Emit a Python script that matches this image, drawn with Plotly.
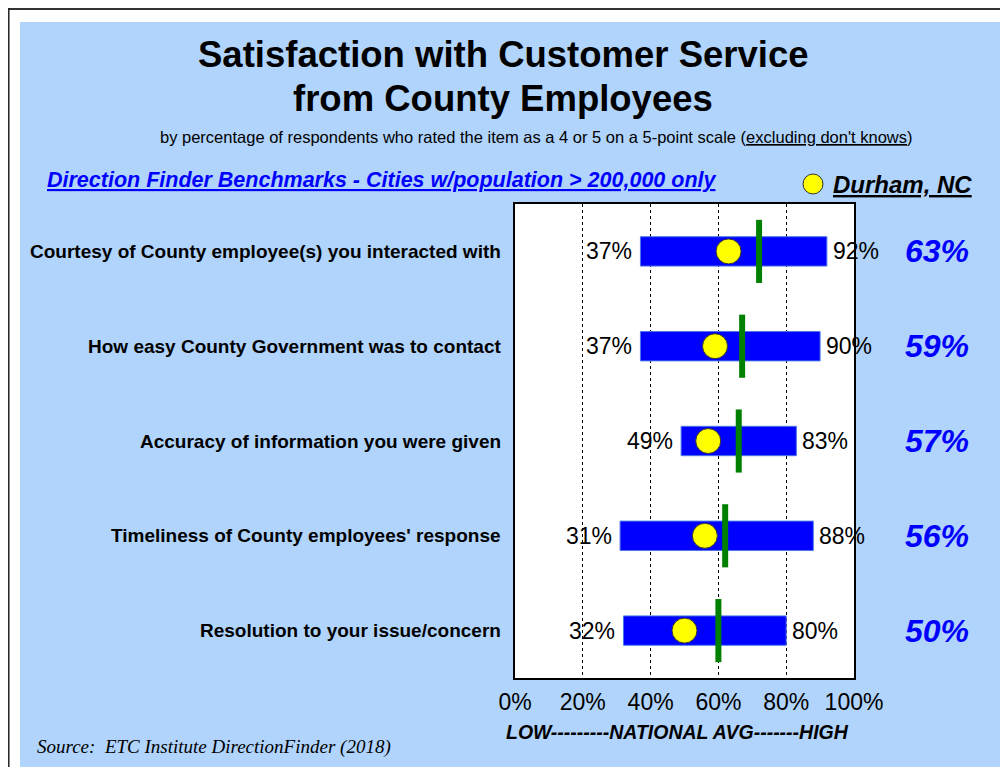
import plotly.graph_objects as go

categories = [
    "Courtesy of County employee(s) you interacted with",
    "How easy County Government was to contact",
    "Accuracy of information you were given",
    "Timeliness of County employees' response",
    "Resolution to your issue/concern",
]
low = [37, 37, 49, 31, 32]
high = [92, 90, 83, 88, 80]
national_avg = [72, 67, 66, 62, 60]
durham = [63, 59, 57, 56, 50]
tick_vals = [0, 20, 40, 60, 80, 100]
tick_text = ["0%", "20%", "40%", "60%", "80%", "100%"]

W, H = 1008, 767
OFF = 8  # page body margin
L, R, T, B = 515, 854, 204, 678


def px(x):
    return (x - L) / (R - L)


def py(y):
    return (B - y) / (B - T)


BLUE_BG = "#B0D4FC"
pos = list(range(len(categories)))

fig = go.Figure()

fig.add_trace(go.Bar(
    y=pos, x=[h - l for l, h in zip(low, high)], base=low, orientation="h",
    width=0.31, marker=dict(color="#0000FF", line=dict(color="#4A78E8", width=1)),
    showlegend=False, hoverinfo="skip",
))

gx, gy = [], []
for i, v in enumerate(national_avg):
    gx += [v, v, None]
    gy += [i - 0.333, i + 0.333, None]
fig.add_trace(go.Scatter(x=gx, y=gy, mode="lines", line=dict(color="#008000", width=6),
                         showlegend=False, hoverinfo="skip"))

fig.add_trace(go.Scatter(
    x=durham, y=pos, mode="markers",
    marker=dict(size=25, color="#FFFF00", line=dict(color="#333333", width=1)),
    showlegend=False, hoverinfo="skip",
))

ann = []
lab_font = dict(family="Arial, Liberation Sans", size=23, color="black")
for i in pos:
    ann.append(dict(x=low[i], y=i, xref="x", yref="y", text=f"{low[i]}%", showarrow=False,
                    xanchor="right", yanchor="middle", xshift=-6, font=lab_font))
    ann.append(dict(x=high[i], y=i, xref="x", yref="y", text=f"{high[i]}%", showarrow=False,
                    xanchor="left", yanchor="middle", xshift=4, font=lab_font))
    ann.append(dict(x=px(937), y=i, xref="paper", yref="y", text=f"<b><i>{durham[i]}%</i></b>",
                    showarrow=False, xanchor="center", yanchor="middle",
                    font=dict(family="Arial, Liberation Sans", size=32, color="#0000FF")))
    ann.append(dict(x=px(503), y=i, xref="paper", yref="y", text=f"<b>{categories[i]}</b>",
                    showarrow=False, xanchor="right", yanchor="middle",
                    font=dict(family="Arial, Liberation Sans", size=19, color="black")))

ann += [
    dict(x=px(503), y=py(54), xref="paper", yref="paper", showarrow=False,
         text="<b>Satisfaction with Customer Service</b>", xanchor="center", yanchor="middle",
         font=dict(family="Arial, Liberation Sans", size=36.5, color="black")),
    dict(x=px(503), y=py(98), xref="paper", yref="paper", showarrow=False,
         text="<b>from County Employees</b>", xanchor="center", yanchor="middle",
         font=dict(family="Arial, Liberation Sans", size=36.5, color="black")),
    dict(x=px(536), y=py(137), xref="paper", yref="paper", showarrow=False,
         text="by percentage of respondents who rated the item as a 4 or 5 on a 5-point scale (<u>excluding don't knows</u>)",
         xanchor="center", yanchor="middle",
         font=dict(family="Arial, Liberation Sans", size=16.5, color="black")),
    dict(x=px(45), y=py(180), xref="paper", yref="paper", showarrow=False,
         text="<b><i><u>Direction Finder Benchmarks - Cities w/population > 200,000 only</u></i></b>",
         xanchor="left", yanchor="middle",
         font=dict(family="Arial, Liberation Sans", size=21.5, color="#0000FF")),
    dict(x=px(831), y=py(184), xref="paper", yref="paper", showarrow=False,
         text="<b><i><u>Durham, NC</u></i></b>", xanchor="left", yanchor="middle",
         font=dict(family="Arial, Liberation Sans", size=24, color="black")),
    dict(x=px(677), y=py(732), xref="paper", yref="paper", showarrow=False,
         text="<b><i>LOW---------NATIONAL AVG-------HIGH</i></b>", xanchor="center", yanchor="middle",
         font=dict(family="Arial, Liberation Sans", size=19.5, color="black")),
    dict(x=px(35), y=py(747), xref="paper", yref="paper", showarrow=False,
         text="<i>Source:  ETC Institute DirectionFinder (2018)</i>", xanchor="left", yanchor="middle",
         font=dict(family="Liberation Serif, Times New Roman", size=19, color="black")),
]

shapes = [
    dict(type="rect", xref="paper", yref="paper", x0=px(-10), x1=px(W + 10), y0=py(22), y1=py(-10),
         fillcolor="white", line=dict(width=0), layer="above"),
    dict(type="rect", xref="paper", yref="paper", x0=px(-10), x1=px(20), y0=py(H + 10), y1=py(-10),
         fillcolor="white", line=dict(width=0), layer="above"),
    dict(type="rect", xref="paper", yref="paper", x0=px(1004), x1=px(W + 10), y0=py(H + 10), y1=py(-10),
         fillcolor="white", line=dict(width=0), layer="above"),
    dict(type="line", xref="paper", yref="paper", x0=px(8), x1=px(W + 10), y0=py(9), y1=py(9),
         line=dict(color="#333333", width=2), layer="above"),
    dict(type="line", xref="paper", yref="paper", x0=px(8.8), x1=px(8.8), y0=py(8), y1=py(H + 10),
         line=dict(color="#222222", width=1.5), layer="above"),
    dict(type="circle", xref="paper", yref="paper", x0=px(803), x1=px(823), y0=py(194), y1=py(174),
         fillcolor="#FFFF00", line=dict(color="#333333", width=1), layer="above"),
]

fig.update_layout(
    width=W, height=H,
    margin=dict(l=L - OFF, r=W - R + OFF, t=T - OFF, b=H - B + OFF, pad=0),
    paper_bgcolor=BLUE_BG, plot_bgcolor="white",
    annotations=ann, shapes=shapes, showlegend=False,
    xaxis=dict(range=[0, 100], tickvals=tick_vals, ticktext=tick_text, showgrid=True,
               gridcolor="black", griddash="dot", gridwidth=1, zeroline=False,
               showline=True, linecolor="black", linewidth=2, mirror=True, ticks="",
               ticklabelstandoff=2,
               tickfont=dict(family="Arial, Liberation Sans", size=23, color="black"), fixedrange=True),
    yaxis=dict(range=[4.5, -0.5], showticklabels=False, showgrid=False, zeroline=False,
               showline=True, linecolor="black", linewidth=2, mirror=True, ticks="", fixedrange=True),
)

fig.write_html("out.html")
